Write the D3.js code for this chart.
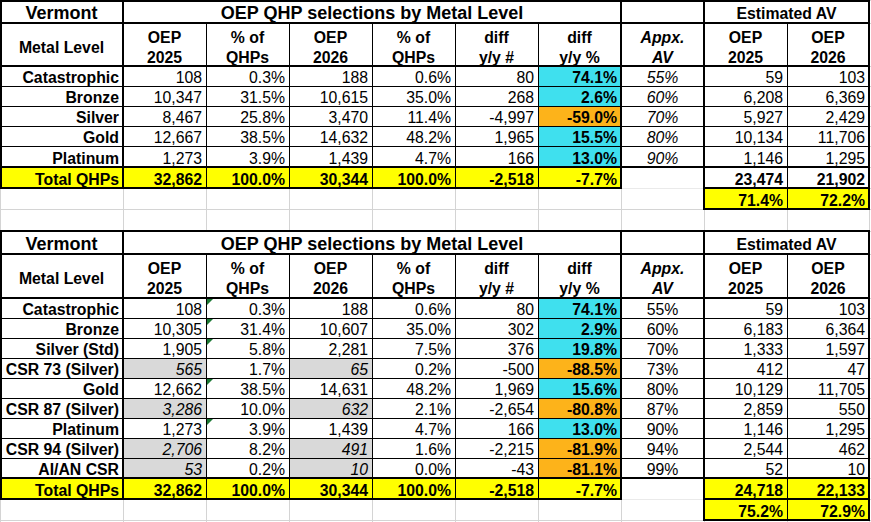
<!DOCTYPE html>
<html>
<head>
<meta charset="utf-8">
<script src="https://cdn.jsdelivr.net/npm/d3@7"></script>
<style>
  html, body { margin: 0; padding: 0; background: #fff; }
  svg text { font-family: "Liberation Sans", Arial, sans-serif; fill: #000; }
</style>
</head>
<body>
<div id="sheet"></div>
<script>

// ---- Table 1: OEP QHP selections by metal level (simple) ----
const levels1 = ["Catastrophic", "Bronze", "Silver", "Gold", "Platinum"]
const oep2025_1 = [108, 10347, 8467, 12667, 1273]
const pct2025_1 = [0.3, 31.5, 25.8, 38.5, 3.9]
const oep2026_1 = [188, 10615, 3470, 14632, 1439]
const pct2026_1 = [0.6, 35.0, 11.4, 48.2, 4.7]
const diff_1 = [80, 268, -4997, 1965, 166]
const diffPct_1 = [74.1, 2.6, -59.0, 15.5, 13.0]
const av_1 = [55, 60, 70, 80, 90]
const est2025_1 = [59, 6208, 5927, 10134, 1146]
const est2026_1 = [103, 6369, 2429, 11706, 1295]
const totals_1 = [32862, 100.0, 30344, 100.0, -2518, -7.7]
const estTotals_1 = [23474, 21902]
const estAv_1 = [71.4, 72.2]

// ---- Table 2: same, with CSR breakdown ----
const levels2 = ["Catastrophic", "Bronze", "Silver (Std)", "CSR 73 (Silver)", "Gold",
    "CSR 87 (Silver)", "Platinum", "CSR 94 (Silver)", "AI/AN CSR"]
const oep2025_2 = [108, 10305, 1905, 565, 12662, 3286, 1273, 2706, 53]
const pct2025_2 = [0.3, 31.4, 5.8, 1.7, 38.5, 10.0, 3.9, 8.2, 0.2]
const oep2026_2 = [188, 10607, 2281, 65, 14631, 632, 1439, 491, 10]
const pct2026_2 = [0.6, 35.0, 7.5, 0.2, 48.2, 2.1, 4.7, 1.6, 0.0]
const diff_2 = [80, 302, 376, -500, 1969, -2654, 166, -2215, -43]
const diffPct_2 = [74.1, 2.9, 19.8, -88.5, 15.6, -80.8, 13.0, -81.9, -81.1]
const av_2 = [55, 60, 70, 73, 80, 87, 90, 94, 99]
const est2025_2 = [59, 6183, 1333, 412, 10129, 2859, 1146, 2544, 52]
const est2026_2 = [103, 6364, 1597, 47, 11705, 550, 1295, 462, 10]
const totals_2 = [32862, 100.0, 30344, 100.0, -2518, -7.7]
const estTotals_2 = [24718, 22133]
const estAv_2 = [75.2, 72.9]

// header labels
const stateName = "Vermont"
const title = "OEP QHP selections by Metal Level"
const estTitle = "Estimated AV"
const colHeads = [["Metal Level"], ["OEP", "2025"], ["% of", "QHPs"], ["OEP", "2026"], ["% of", "QHPs"],
    ["diff", "y/y #"], ["diff", "y/y %"], ["Appx.", "AV"], ["OEP", "2025"], ["OEP", "2026"]]

// ---- Layout ----
const W = 871, H = 522
const colW = [123, 83, 83, 83, 83, 83, 83, 83, 83, 82]
const rowH = [23, 43, 20, 20, 20, 20, 21, 21, 21, 22, 23, 44, 20, 20, 20, 20, 20, 20, 20, 20, 20, 21, 21]
const xs = [0, ...d3.cumsum(colW)]
const ys = [0, ...d3.cumsum(rowH)]

const colors = { cyan: "#3fe0ee", orange: "#fdb31a", yellow: "#ffff00", gray: "#d9d9d9", grid: "#d4d4d4", tri: "#1d7a36" }
const fontSize = 15.8

const loc = d3.formatLocale({ decimal: ".", thousands: ",", grouping: [3], currency: ["$", ""], minus: "-" })
const fmtN = loc.format(",d")
const fmtP = v => loc.format(".1f")(v) + "%"

const svg = d3.select("#sheet").append("svg")
    .attr("width", W).attr("height", H)
    .style("display", "block")

svg.append("rect").attr("width", W).attr("height", H).attr("fill", "#fff")

// Spreadsheet gridlines underneath everything
const grid = svg.append("g").attr("stroke", colors.grid).attr("stroke-width", 1)
grid.selectAll("line.v").data(xs).enter().append("line")
    .attr("x1", d => d + 0.5).attr("x2", d => d + 0.5).attr("y1", 0).attr("y2", H)
grid.selectAll("line.h").data(ys).enter().append("line")
    .attr("y1", d => d + 0.5).attr("y2", d => d + 0.5).attr("x1", 0).attr("x2", W)

function buildCells(t, r0) {
    const n = t.levels.length
    const cells = []
    // header row 1
    cells.push({ c: 0, r: r0, span: 1, lines: [stateName], align: "middle", bold: true, size: 18, head1: true })
    cells.push({ c: 1, r: r0, span: 6, lines: [title], align: "middle", bold: true, size: 18, head1: true })
    cells.push({ c: 7, r: r0, span: 1, lines: [], head1: true })
    cells.push({ c: 8, r: r0, span: 2, lines: [estTitle], align: "middle", bold: true, head1: true })
    // header row 2
    colHeads.forEach((h, i) => {
        cells.push({ c: i, r: r0 + 1, span: 1, lines: h, align: "middle", bold: true, italic: i === 7, head2: true })
    })
    // data rows
    t.levels.forEach((lv, i) => {
        const r = r0 + 2 + i
        const csr = t.csr && t.csr[i]
        cells.push({ c: 0, r, lines: [lv], align: "end", bold: true })
        cells.push({ c: 1, r, lines: [fmtN(t.oep2025[i])], align: "end", italic: csr, fill: csr ? colors.gray : null })
        cells.push({ c: 2, r, lines: [fmtP(t.pct2025[i])], align: "end", tri: t.tri && !csr })
        cells.push({ c: 3, r, lines: [fmtN(t.oep2026[i])], align: "end", italic: csr, fill: csr ? colors.gray : null })
        cells.push({ c: 4, r, lines: [fmtP(t.pct2026[i])], align: "end" })
        cells.push({ c: 5, r, lines: [fmtN(t.diff[i])], align: "end" })
        cells.push({ c: 6, r, lines: [fmtP(t.diffPct[i])], align: "end", bold: true,
            fill: t.diffPct[i] >= 0 ? colors.cyan : colors.orange })
        cells.push({ c: 7, r, lines: [t.av[i] + "%"], align: "middle", italic: t.avItalic })
        cells.push({ c: 8, r, lines: [fmtN(t.est2025[i])], align: "end" })
        cells.push({ c: 9, r, lines: [fmtN(t.est2026[i])], align: "end" })
    })
    // total row
    const rt = r0 + 2 + n
    cells.push({ c: 0, r: rt, lines: ["Total QHPs"], align: "end", bold: true, fill: colors.yellow })
    t.totals.forEach((v, i) => {
        cells.push({ c: i + 1, r: rt, lines: [i % 2 === 0 ? fmtN(v) : fmtP(v)], align: "end", bold: true, fill: colors.yellow })
    })
    cells.push({ c: 7, r: rt, lines: [], noStroke: true })
    t.estTotals.forEach((v, i) => {
        cells.push({ c: 8 + i, r: rt, lines: [fmtN(v)], align: "end", bold: true, fill: t.estTotalFill })
    })
    // weighted AV row
    t.estAv.forEach((v, i) => {
        cells.push({ c: 8 + i, r: rt + 1, lines: [fmtP(v)], align: "end", bold: true, fill: colors.yellow })
    })
    return { cells, r0, n }
}

const tables = [
    buildCells({ levels: levels1, oep2025: oep2025_1, pct2025: pct2025_1, oep2026: oep2026_1, pct2026: pct2026_1,
        diff: diff_1, diffPct: diffPct_1, av: av_1, est2025: est2025_1, est2026: est2026_1,
        totals: totals_1, estTotals: estTotals_1, estAv: estAv_1, avItalic: true, estTotalFill: "#fff" }, 0),
    buildCells({ levels: levels2, oep2025: oep2025_2, pct2025: pct2025_2, oep2026: oep2026_2, pct2026: pct2026_2,
        diff: diff_2, diffPct: diffPct_2, av: av_2, est2025: est2025_2, est2026: est2026_2,
        totals: totals_2, estTotals: estTotals_2, estAv: estAv_2, avItalic: false, estTotalFill: colors.yellow,
        csr: levels2.map(d => d.startsWith("CSR") || d.startsWith("AI/AN")), tri: true }, 10)
]

tables.forEach(tb => {
    const g = svg.append("g")

    // cell backgrounds with thin borders
    g.selectAll("rect.cell").data(tb.cells).enter().append("rect")
        .attr("class", "cell")
        .attr("x", d => xs[d.c] + 0.5)
        .attr("y", d => ys[d.r] + 0.5)
        .attr("width", d => xs[d.c + (d.span || 1)] - xs[d.c])
        .attr("height", d => ys[d.r + 1] - ys[d.r])
        .attr("fill", d => d.fill || "#fff")
        .attr("stroke", d => d.noStroke || d.head1 ? "none" : "#000")
        .attr("stroke-width", 1)

    // green error-indicator triangles
    g.selectAll("path.tri").data(tb.cells.filter(d => d.tri)).enter().append("path")
        .attr("d", d => {
            const x = xs[d.c] + 1, y = ys[d.r] + 1
            return `M${x},${y}L${x + 6},${y}L${x},${y + 6}Z`
        })
        .attr("fill", colors.tri)

    // cell texts
    const txt = g.selectAll("text.cell").data(tb.cells.filter(d => d.lines.length)).enter().append("text")
        .attr("class", "cell")
        .attr("text-anchor", d => d.align)
        .attr("font-size", d => (d.size || fontSize) + "px")
        .attr("font-weight", d => d.bold ? "bold" : "normal")
        .attr("font-style", d => d.italic ? "italic" : "normal")
        .attr("x", d => {
            const x0 = xs[d.c], x1 = xs[d.c + (d.span || 1)]
            return d.align === "end" ? x1 - 4 : d.align === "start" ? x0 + 4 : (x0 + x1) / 2
        })
    txt.selectAll("tspan").data(d => d.lines.map((s, i) => ({ s, i, d }))).enter().append("tspan")
        .attr("x", function () { return d3.select(this.parentNode).attr("x") })
        .attr("y", p => {
            const top = ys[p.d.r], bot = ys[p.d.r + 1]
            if (p.d.head1) return top + 19
            if (p.d.head2) return p.d.lines.length === 1 ? top + 29.5 : top + 19.5 + p.i * 20
            return bot - 3
        })
        .text(p => p.s)

    // thick outlines
    const r0 = tb.r0, n = tb.n
    const yTop = ys[r0], yH1 = ys[r0 + 1], yH2 = ys[r0 + 2], yTot = ys[r0 + 2 + n],
        yTotB = ys[r0 + 3 + n], yAvB = ys[r0 + 4 + n]
    const thick = [
        [0, yTop, W - 2, yTop], [0, yH1, W - 2, yH1], [0, yH2, W - 2, yH2], [0, yTot, W - 2, yTot],
        [0, yTotB, xs[7], yTotB], [xs[8], yTotB, W - 2, yTotB], [xs[8], yAvB, W - 2, yAvB],
        [1, yTop, 1, yTotB], [xs[1], yTop, xs[1], yTotB], [xs[7], yTop, xs[7], yTotB],
        [xs[8], yTop, xs[8], yAvB], [xs[10], yTop, xs[10], yAvB]
    ]
    g.selectAll("line.thick").data(thick).enter().append("line")
        .attr("x1", d => d[0]).attr("y1", d => d[1] === 0 ? 1 : d[1])
        .attr("x2", d => d[2]).attr("y2", d => d[3] === 0 ? 1 : d[3])
        .attr("stroke", "#000").attr("stroke-width", 2)
        .attr("stroke-linecap", "square")
})

</script>
</body>
</html>
